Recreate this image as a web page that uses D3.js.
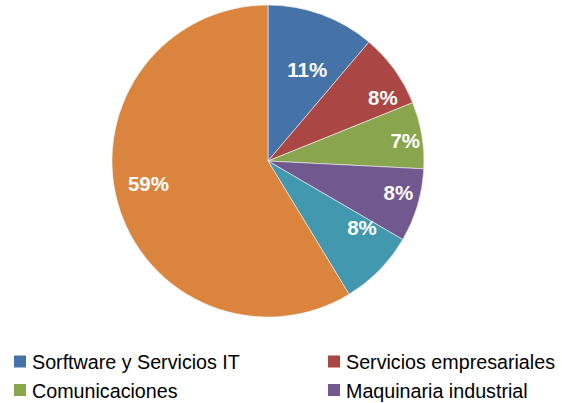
<!DOCTYPE html>
<html>
<head>
<meta charset="utf-8">
<script src="https://cdn.jsdelivr.net/npm/d3@7"></script>
<style>
  body { margin: 0; background: #fff; }
  svg { display: block; font-family: "Liberation Sans", Arial, sans-serif; }
</style>
</head>
<body>
<svg id="chart" width="562" height="403"></svg>
<script>
// sectors, clockwise from 12 o'clock
var categories = ["Sorftware y Servicios IT", "Servicios empresariales", "Comunicaciones",
                  "Maquinaria industrial", "Electrónica", "Otros"];
var shares = [11.2, 7.7, 6.9, 7.6, 7.9, 58.7];
var colors = ["#4572A7", "#AA4643", "#89A54E", "#71588F", "#4198AF", "#DB843D"];
// only the first two legend rows fit in the picture
var legendShown = 4;

var svg = d3.select("#chart");
var cx = 268, cy = 161, R = 156;

var pie = d3.pie().sort(null).value(d => d);
var arcs = pie(shares);
var arc = d3.arc().innerRadius(0).outerRadius(R);

var g = svg.append("g").attr("transform", "translate(" + cx + "," + cy + ")");

g.selectAll("path.slice")
    .data(arcs)
    .enter().append("path")
    .attr("class", "slice")
    .attr("d", arc)
    .attr("fill", (d, i) => colors[i])
    .attr("stroke", "#f4f4f4")
    .attr("stroke-width", 0.6);

// "best fit" label placement: radius fraction and angle nudge (deg) per slice
var labelFit = [[0.64, 3], [0.84, 7], [0.89, 1], [0.86, -3], [0.74, -9], [0.78, 5]];
function labelPos(d, i) {
    var a = (d.startAngle + d.endAngle) / 2 + labelFit[i][1] * Math.PI / 180;
    var r = R * labelFit[i][0];
    return [Math.sin(a) * r, -Math.cos(a) * r];
}

g.selectAll("text.pct")
    .data(arcs)
    .enter().append("text")
    .attr("class", "pct")
    .attr("x", (d, i) => labelPos(d, i)[0])
    .attr("y", (d, i) => labelPos(d, i)[1])
    .attr("text-anchor", "middle")
    .attr("dominant-baseline", "central")
    .attr("fill", "#fff")
    .attr("font-weight", "bold")
    .attr("font-size", 20.5)
    .text(d => Math.round(d.value) + "%");

// legend, two columns
var legend = svg.append("g");
var items = legend.selectAll("g.item")
    .data(categories.slice(0, legendShown))
    .enter().append("g")
    .attr("class", "item")
    .attr("transform", (d, i) => "translate(" + (i % 2 ? 328 : 14) + "," + (361.5 + Math.floor(i / 2) * 28.5) + ")");

items.append("rect")
    .attr("x", 0).attr("y", -6)
    .attr("width", 12).attr("height", 12)
    .attr("fill", (d, i) => colors[i]);

items.append("text")
    .attr("x", 18)
    .attr("y", 0.5)
    .attr("dominant-baseline", "central")
    .attr("font-size", 19.7)
    .attr("fill", "#000")
    .text(d => d);
</script>
</body>
</html>
